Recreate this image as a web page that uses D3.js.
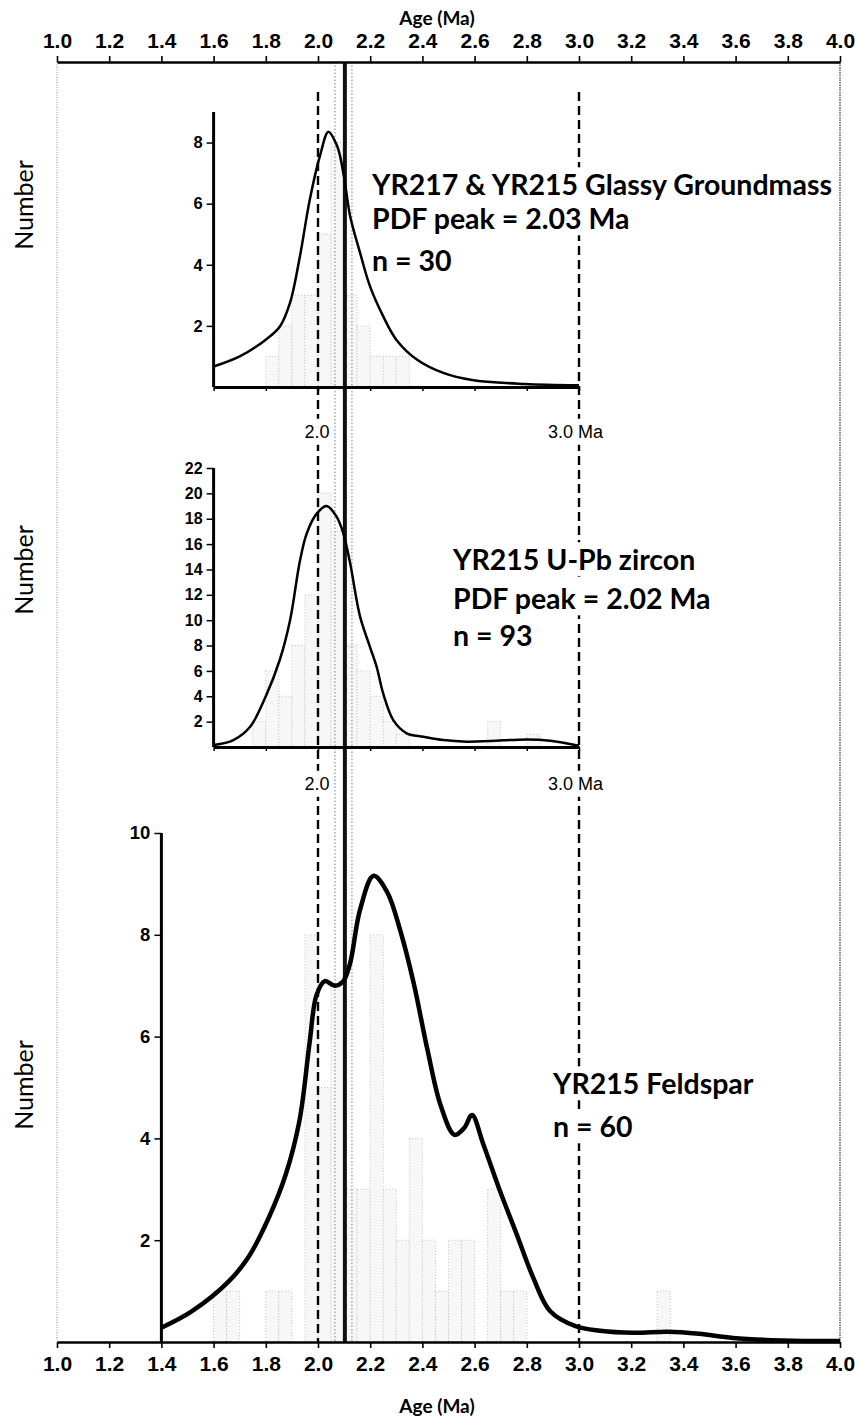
<!DOCTYPE html>
<html><head><meta charset="utf-8">
<script src="https://cdn.jsdelivr.net/npm/d3@7"></script>
<style>
body{margin:0;background:#fff;}
svg{display:block;}
</style></head>
<body>
<script>
// ---------------- DATA ----------------
const ageTicks = [1.0,1.2,1.4,1.6,1.8,2.0,2.2,2.4,2.6,2.8,3.0,3.2,3.4,3.6,3.8,4.0];
const binWidth = 0.05;

// Top panel: YR217 & YR215 Glassy Groundmass
const topTicksY = [2,4,6,8];
const topBinStart = [1.80,1.85,1.90,1.95,2.00,2.05,2.10,2.15,2.20,2.25,2.30];
const topCounts   = [1,2,3,3,5,8,3,2,1,1,1];
const topPdfAge = [1.60,1.70,1.80,1.854,1.893,1.931,1.969,2.008,2.04,2.07,2.084,2.103,2.123,2.161,2.199,2.25,2.30,2.38,2.48,2.59,2.79,3.00];
const topPdfVal = [0.67,1.00,1.55,1.98,2.76,4.29,6.15,7.58,8.35,7.95,7.58,6.70,5.60,4.40,3.30,2.31,1.55,0.89,0.46,0.23,0.10,0.06];
const topLabel = ["YR217 & YR215 Glassy Groundmass","PDF peak = 2.03 Ma","n = 30"];

// Middle panel: YR215 U-Pb zircon
const midTicksY = [2,4,6,8,10,12,14,16,18,20,22];
const midBinStart = [1.75,1.80,1.85,1.90,1.95,2.00,2.05,2.10,2.15,2.20,2.25,2.30,2.65,2.80];
const midCounts   = [2,6,4,8,12,20,17,8,6,4,2,1,2,1];
const midPdfAge = [1.60,1.676,1.74,1.80,1.854,1.893,1.931,1.957,1.995,2.033,2.07,2.097,2.123,2.161,2.199,2.225,2.25,2.289,2.34,2.404,2.48,2.57,2.66,2.80,2.89,3.00];
const midPdfVal = [0.16,0.55,1.6,4.0,6.9,10.0,14.7,16.85,18.4,19.0,18.2,16.85,14.5,10.3,7.9,6.3,4.2,2.1,1.08,0.81,0.55,0.42,0.47,0.60,0.50,0.10];
const midLabel = ["YR215 U-Pb zircon","PDF peak = 2.02 Ma","n = 93"];

// Bottom panel: YR215 Feldspar
const botTicksY = [2,4,6,8,10];
const botBinStart = [1.60,1.65,1.80,1.85,1.95,2.00,2.05,2.10,2.15,2.20,2.25,2.30,2.35,2.40,2.45,2.50,2.55,2.65,2.70,2.75,3.30];
const botCounts   = [1,1,1,1,8,5,7,3,3,8,3,2,4,2,1,2,2,3,1,1,1];
const botPdfAge = [1.40,1.516,1.658,1.735,1.813,1.877,1.929,1.968,1.994,2.026,2.065,2.097,2.123,2.161,2.213,2.265,2.316,2.368,2.419,2.471,2.523,2.561,2.59,2.633,2.697,2.761,2.825,2.889,2.987,3.08,3.21,3.34,3.46,3.59,3.78,4.00];
const botPdfVal = [0.28,0.60,1.19,1.68,2.46,3.30,4.35,5.89,6.81,7.09,7.00,7.09,7.44,8.49,9.16,8.84,8.07,7.02,5.75,4.63,4.07,4.21,4.46,3.89,2.97,2.12,1.26,0.61,0.31,0.22,0.18,0.20,0.16,0.08,0.03,0.02];
const botLabel = ["YR215 Feldspar","n = 60"];

// reference lines (Ma)
const dashedAges = [2.0, 3.0];
const solidAge = 2.103;
const bandAges = [2.065, 2.13];

// ---------------- LAYOUT ----------------
const W = 855, H = 1425;
const svg = d3.select("body").append("svg").attr("width", W).attr("height", H);
const x = d3.scaleLinear().domain([1,4]).range([57,840]);
const frameTop = 62, frameBot = 1342;

const panels = [
  {domX:[1.6,3.0], domY:[0,9],  rangeY:[387,112], ticks:topTicksY, bins:topBinStart, counts:topCounts, pdfA:topPdfAge, pdfV:topPdfVal, lw:2.5, labelSize:16.5},
  {domX:[1.6,3.0], domY:[0,22], rangeY:[747,468], ticks:midTicksY, bins:midBinStart, counts:midCounts, pdfA:midPdfAge, pdfV:midPdfVal, lw:2.5, labelSize:16},
  {domX:[1.4,4.0], domY:[0,10], rangeY:[1342,833], ticks:botTicksY, bins:botBinStart, counts:botCounts, pdfA:botPdfAge, pdfV:botPdfVal, lw:4.5, labelSize:18.5}
];
panels.forEach(p => p.y = d3.scaleLinear().domain(p.domY).range(p.rangeY));

// ---------------- HISTOGRAM BARS ----------------
const gBars = svg.append("g");
panels.forEach(p => {
  gBars.selectAll(null).data(p.bins.map((b,i)=>({b, c:p.counts[i]}))).join("rect")
    .attr("x", d => x(d.b))
    .attr("width", d => x(d.b+binWidth)-x(d.b))
    .attr("y", d => p.y(d.c))
    .attr("height", d => p.y(0)-p.y(d.c))
    .attr("fill", "#f7f7f7")
    .attr("stroke", "#c4c4c4")
    .attr("stroke-width", 1)
    .attr("stroke-dasharray", "1,2");
});

// ---------------- REFERENCE LINES ----------------
const gRef = svg.append("g");
bandAges.forEach(a => {
  gRef.append("line").attr("x1", x(a)).attr("x2", x(a)).attr("y1", frameTop).attr("y2", frameBot)
    .attr("stroke", "#9a9a9a").attr("stroke-width", 1.3).attr("stroke-dasharray", "1.5,2");
});
dashedAges.forEach(a => {
  gRef.append("line").attr("x1", x(a)).attr("x2", x(a)).attr("y1", frameTop+30).attr("y2", frameBot)
    .attr("stroke", "#000").attr("stroke-width", 2.4).attr("stroke-dasharray", "9,5");
});
gRef.append("line").attr("x1", x(solidAge)).attr("x2", x(solidAge)).attr("y1", frameTop).attr("y2", frameBot)
  .attr("stroke", "#111").attr("stroke-width", 4);

// frame sides
svg.append("line").attr("x1", x(1)).attr("x2", x(1)).attr("y1", frameTop).attr("y2", frameBot)
  .attr("stroke", "#888").attr("stroke-width", 1).attr("stroke-dasharray", "1,1.5");
svg.append("line").attr("x1", x(4)).attr("x2", x(4)).attr("y1", frameTop).attr("y2", frameBot)
  .attr("stroke", "#444").attr("stroke-width", 1.3).attr("stroke-dasharray", "1.5,1");

// ---------------- CURVES ----------------
panels.forEach(p => {
  const line = d3.line().x(d => x(d[0])).y(d => p.y(d[1])).curve(d3.curveCatmullRom.alpha(0.5));
  svg.append("path").datum(p.pdfA.map((a,i)=>[a,p.pdfV[i]]))
    .attr("d", line).attr("fill","none").attr("stroke","#000").attr("stroke-width", p.lw)
    .attr("stroke-linejoin","round");
});

// ---------------- PANEL AXES ----------------
panels.forEach((p,k) => {
  const xs = d3.scaleLinear().domain(p.domX).range([x(p.domX[0]), x(p.domX[1])]);
  const ya = svg.append("g").attr("transform", `translate(${x(p.domX[0])},0)`)
    .call(d3.axisLeft(p.y).tickValues(p.ticks).tickSize(7).tickPadding(4).tickSizeOuter(0).tickFormat(d3.format("d")));
  ya.select(".domain").attr("stroke-width", 3).attr("d", `M0,${p.y(0)}V${p.y(p.domY[1])}`);
  ya.selectAll(".tick line").attr("stroke-width", 1.5);
  ya.selectAll("text").attr("font-family", "'Liberation Sans', Arial, sans-serif")
    .attr("font-weight", "bold").attr("font-size", p.labelSize + "px").attr("fill", "#000");
  if (k < 2) {
    const xa = svg.append("g").attr("transform", `translate(0,${p.y(0)})`)
      .call(d3.axisBottom(xs).tickValues(d3.range(p.domX[0], p.domX[1]+0.001, 0.2)).tickSize(4).tickSizeOuter(0).tickFormat(""));
    xa.select(".domain").attr("stroke-width", 3);
    xa.selectAll(".tick line").attr("stroke-width", 1.5);
  }
});

// ---------------- MAIN AXES ----------------
const fmt = d3.format(".1f");
const topAx = svg.append("g").attr("transform", `translate(0,${frameTop})`)
  .call(d3.axisTop(x).tickValues(ageTicks).tickSize(6).tickSizeOuter(0).tickFormat(fmt));
const botAx = svg.append("g").attr("transform", `translate(0,${frameBot})`)
  .call(d3.axisBottom(x).tickValues(ageTicks).tickSize(6).tickSizeOuter(0).tickFormat(fmt));
[topAx, botAx].forEach(a => {
  a.select(".domain").attr("stroke-width", 2.4);
  a.selectAll(".tick line").attr("stroke-width", 1.6);
  a.selectAll("text").attr("font-family", "'Liberation Sans Narrow','Liberation Sans', Arial, sans-serif")
    .attr("font-weight", "bold").attr("font-size", "21px").attr("fill", "#000");
});
topAx.selectAll("text").attr("dy", "-0.25em");
botAx.selectAll("text").attr("dy", "0.95em");

// ---------------- TEXT ----------------
const calibri = "Lato, 'Open Sans', sans-serif";
function labelWithBg(lines, x0, ys, size) {
  lines.forEach((t,i) => {
    const g = svg.append("g");
    const tx = g.append("text").attr("x", x0).attr("y", ys[i])
      .attr("font-family", calibri).attr("font-weight", "bold").attr("font-size", size + "px")
      .attr("dominant-baseline", "middle").text(t);
    const bb = tx.node().getBBox();
    g.insert("rect", "text").attr("x", bb.x-2).attr("y", bb.y).attr("width", bb.width+4).attr("height", bb.height).attr("fill", "#fff");
  });
}
labelWithBg(topLabel, 372, [188, 222, 264], 28.5);
labelWithBg(midLabel, 453, [563, 602, 639], 28.5);
labelWithBg(botLabel, 553, [1087, 1130], 28.5);

// small age labels between panels
function smallLabel(t, xx, yy, anchor) {
  const g = svg.append("g");
  const tx = g.append("text").attr("x", xx).attr("y", yy).attr("text-anchor", anchor)
    .attr("font-family", "'Liberation Sans', Arial, sans-serif").attr("font-size", "18px")
    .attr("dominant-baseline", "middle").text(t);
  const bb = tx.node().getBBox();
  g.insert("rect", "text").attr("x", bb.x-1).attr("y", bb.y-3).attr("width", bb.width+2).attr("height", bb.height+6).attr("fill", "#fff");
}
smallLabel("2.0", x(2.0)-1, 433, "middle");
smallLabel("3.0 Ma", 548, 433, "start");
smallLabel("2.0", x(2.0)-1, 785, "middle");
smallLabel("3.0 Ma", 548, 785, "start");

// Number labels
[205, 570, 1085].forEach(cy => {
  svg.append("text").attr("transform", `translate(27,${cy}) rotate(-90)`)
    .attr("text-anchor", "middle").attr("dominant-baseline", "middle")
    .attr("font-family", calibri).attr("font-size", "25px").text("Number");
});

// Age titles
[20, 1408].forEach(cy => {
  svg.append("text").attr("x", 437).attr("y", cy).attr("text-anchor", "middle").attr("dominant-baseline", "middle")
    .attr("font-family", calibri).attr("font-weight", "bold").attr("font-size", "19px").text("Age (Ma)");
});
</script>
</body></html>
